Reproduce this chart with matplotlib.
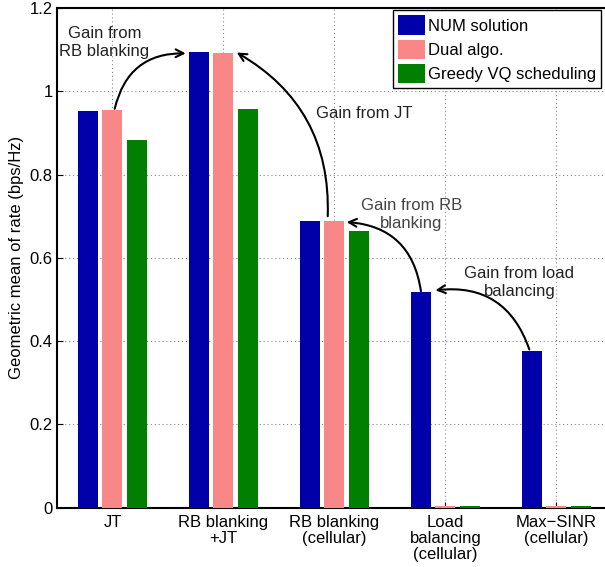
import numpy as np
import matplotlib.pyplot as plt

plt.rcParams['font.family'] = ['Liberation Sans', 'DejaVu Sans']

categories = ["JT", "RB blanking\n+JT", "RB blanking\n(cellular)", "Load\nbalancing\n(cellular)", "Max\u2212SINR\n(cellular)"]
num_solution = [0.952, 1.094, 0.688, 0.517, 0.376]
dual_algo = [0.954, 1.091, 0.688, 0.003, 0.003]
greedy_vq = [0.882, 0.957, 0.664, 0.003, 0.003]
series_names = ["NUM solution", "Dual algo.", "Greedy VQ scheduling"]
colors = ["#0000AA", "#FA8787", "#007F00"]

fs = 12

fig = plt.figure(figsize=(6.05, 5.67), dpi=100)
ax = fig.add_axes([0.0942, 0.1046, 0.917, 0.8813])

x = np.arange(1, len(categories) + 1)
w = 0.18
off = 0.22
for i, (vals, name) in enumerate(zip([num_solution, dual_algo, greedy_vq], series_names)):
    ax.bar(x + (i - 1) * off, vals, width=w, color=colors[i], label=name, zorder=3)

ax.set_xlim(0.5, 5.5)
ax.set_ylim(0, 1.2)
ax.set_yticks([0, 0.2, 0.4, 0.6, 0.8, 1, 1.2])
ax.set_yticklabels(["0", "0.2", "0.4", "0.6", "0.8", "1", "1.2"])
ax.set_xticks(x)
ax.set_xticklabels(categories, fontsize=fs, linespacing=1.1)
ax.tick_params(axis='y', labelsize=fs, direction='in', length=4, pad=3)
ax.tick_params(axis='x', direction='in', length=4, pad=5)
ax.grid(True, linestyle=(0, (1, 2.5)), color='#888888', linewidth=0.8, zorder=0)
for s in ['left', 'bottom', 'top']:
    ax.spines[s].set_linewidth(1.5)
ax.spines['right'].set_visible(False)
ax.set_ylabel("Geometric mean of rate (bps/Hz)", fontsize=fs, labelpad=4)

leg = ax.legend(loc='upper right', bbox_to_anchor=(0.981, 0.995), fancybox=False, framealpha=1,
                edgecolor='black', fontsize=fs, handlelength=1.6, handleheight=1.4,
                handletextpad=0.2, borderpad=0.3, labelspacing=0.3, borderaxespad=0)
leg.get_frame().set_linewidth(1.0)

arrow = dict(arrowstyle='->', color='black', lw=1.5, mutation_scale=14, shrinkA=0, shrinkB=0)

ax.annotate("", xy=(1.66, 1.091), xytext=(1.02, 0.958),
            arrowprops=dict(arrow, connectionstyle="arc3,rad=-0.4"))
ax.annotate("", xy=(2.12, 1.093), xytext=(2.94, 0.70),
            arrowprops=dict(arrow, connectionstyle="arc3,rad=0.3"))
ax.annotate("", xy=(3.11, 0.686), xytext=(3.78, 0.52),
            arrowprops=dict(arrow, connectionstyle="arc3,rad=0.4"))
ax.annotate("", xy=(3.91, 0.522), xytext=(4.757, 0.38),
            arrowprops=dict(arrow, connectionstyle="arc3,rad=0.4"))

ax.text(0.928, 1.118, "Gain from\nRB blanking", ha='center', va='center', fontsize=fs,
        color='#222222', linespacing=1.25)
ax.text(3.27, 0.947, "Gain from JT", ha='center', va='center', fontsize=fs, color='#222222')
ax.text(3.694, 0.703, "Gain from RB\nblanking", ha='center', va='center', fontsize=fs,
        color='#444444', linespacing=1.25)
ax.text(4.667, 0.54, "Gain from load\nbalancing", ha='center', va='center', fontsize=fs,
        color='#222222', linespacing=1.25)

fig.savefig("out.png", dpi=100)
